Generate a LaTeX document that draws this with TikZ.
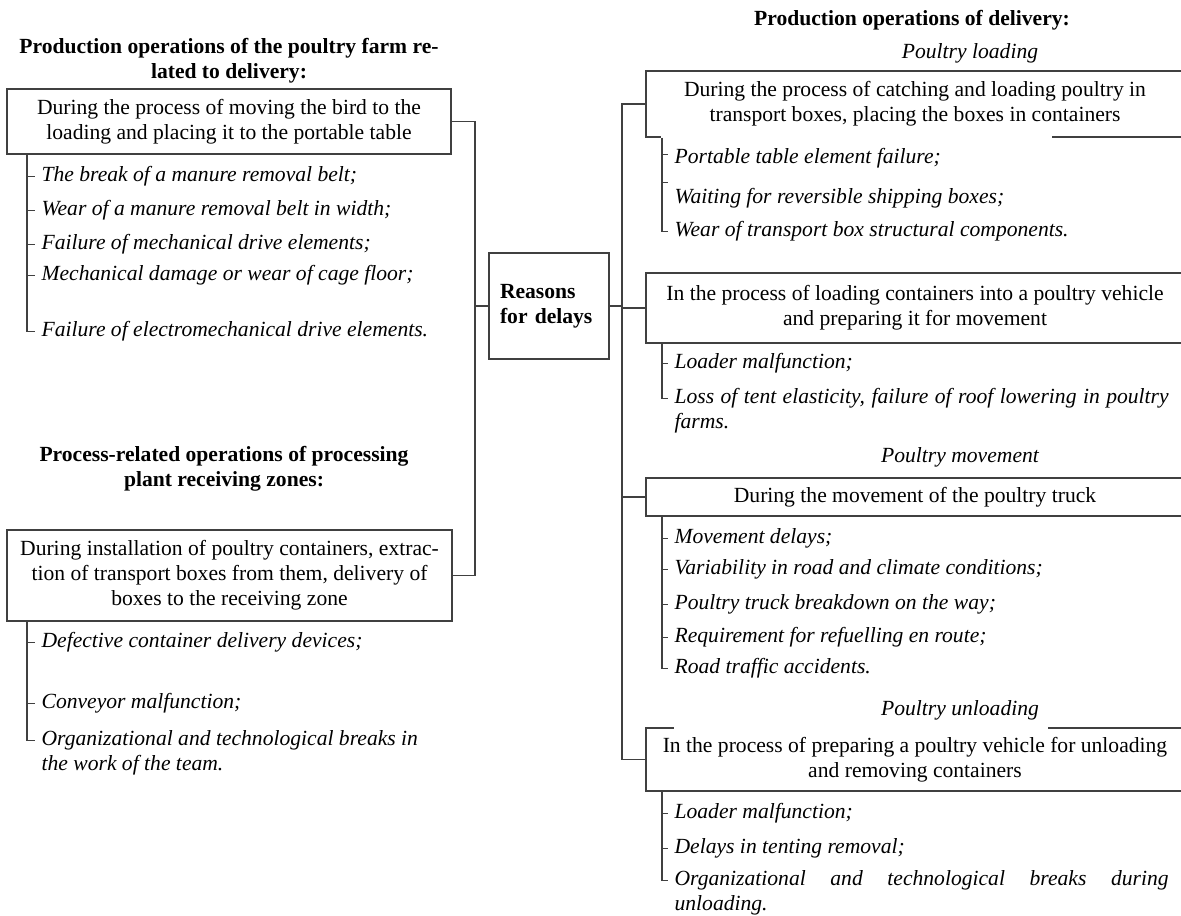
\documentclass[tikz,border=0pt]{standalone}
\usepackage{fontspec}
\setmainfont{Liberation Serif}
\usetikzlibrary{positioning}

\begin{document}
\begin{tikzpicture}[x=0.5pt, y=-0.5pt, line width=0.6pt, draw=black!75,
  every node/.style={font=\fontsize{10.8pt}{12.5pt}\selectfont},
  cause/.style={draw, align=center, inner sep=0pt},
  head/.style={align=center, font=\fontsize{10.8pt}{12.5pt}\selectfont\bfseries},
  stage/.style={font=\fontsize{10.8pt}{12.5pt}\selectfont\itshape},
  item/.style={anchor=base west, inner sep=0pt, align=flush left,
    font=\fontsize{10.8pt}{12.5pt}\selectfont\itshape}]
  \useasboundingbox (0,0) rectangle (1181,915);
  \clip (0,0) rectangle (1181,915);

  % poultry farm side
  \node[head] (farmhead) at (229,61) {Production operations of the poultry farm re-\\lated to delivery:};
  \node[cause, minimum width=222pt, minimum height=32.5pt] (farm) at (229,121.5)
    {During the process of moving the bird to the\\loading and placing it to the portable table};
  \node[item] (f1) at (41,181) {The break of a manure removal belt;};
  \node[item] (f2) at (41,215) {Wear of a manure removal belt in width;};
  \node[item] (f3) at (41,249) {Failure of mechanical drive elements;};
  \node[item] (f4) at (41,280) {Mechanical damage or wear of cage floor;};
  \node[item] (f5) at (41,336) {Failure of electromechanical drive elements.};

  % processing plant side
  \node[head] (planthead) at (224,469) {Process-related operations of processing\\plant receiving zones:};
  \node[cause, minimum width=222.5pt, minimum height=45.5pt] (plant) at (229.5,575.5)
    {During installation of poultry containers, extrac-\\tion of transport boxes from them, delivery of\\boxes to the receiving zone};
  \node[item] (p1) at (41,647) {Defective container delivery devices;};
  \node[item] (p2) at (41,708) {Conveyor malfunction;};
  \node[item, text width=210pt] (p3) at (41,745) {Organizational and technological breaks in\\the work of the team.};

  % centre
  \node[cause, minimum width=60pt, minimum height=53pt, text width=49pt, align=left,
    font=\fontsize{10.8pt}{12.5pt}\selectfont\bfseries] (reasons) at (549,306) {Reasons\\for delays};

  % delivery side
  \node[head] (delhead) at (912,20) {Production operations of delivery:};
  \node[stage] (loading) at (970,53) {Poultry loading};
  \node[cause, minimum width=269pt, minimum height=33pt] (catch) at (915,104)
    {During the process of catching and loading poultry in\\transport boxes, placing the boxes in containers};
  \node[item] (c1) at (674,163) {Portable table element failure;};
  \node[item] (c2) at (674,203) {Waiting for reversible shipping boxes;};
  \node[item] (c3) at (674,236) {Wear of transport box structural components.};

  \node[cause, minimum width=269pt, minimum height=35pt] (vehicle) at (915,308)
    {In the process of loading containers into a poultry vehicle\\and preparing it for movement};
  \node[item] (v1) at (674,368) {Loader malfunction;};
  \node[item, text width=247pt, align=justify] (v2) at (674,403)
    {Loss of tent elasticity, failure of roof lowering in poultry\linebreak farms.};

  \node[stage] (movement) at (960,457) {Poultry movement};
  \node[cause, minimum width=269pt, minimum height=19pt] (truck) at (915,497)
    {During the movement of the poultry truck};
  \node[item] (t1) at (674,543) {Movement delays;};
  \node[item] (t2) at (674,574) {Variability in road and climate conditions;};
  \node[item] (t3) at (674,609) {Poultry truck breakdown on the way;};
  \node[item] (t4) at (674,642) {Requirement for refuelling en route;};
  \node[item] (t5) at (674,673) {Road traffic accidents.};

  \node[stage] (unloading) at (960,710) {Poultry unloading};
  \node[cause, minimum width=269pt, minimum height=31.5pt] (unload) at (915,759.5)
    {In the process of preparing a poultry vehicle for unloading\\and removing containers};
  \node[item] (u1) at (674,818) {Loader malfunction;};
  \node[item] (u2) at (674,853) {Delays in tenting removal;};
  \node[item, text width=247pt, align=justify] (u3) at (674,885)
    {Organizational and technological breaks during\linebreak unloading.};

  % spines
  \coordinate (lspine) at (475,0);
  \coordinate (rspine) at (622,0);
  \coordinate (ltrunk) at (27,0);
  \coordinate (rtrunk) at (662,0);

  \draw (farm.east) -- (farm.east -| lspine) -- (plant.east -| lspine) -- (plant.east);
  \draw (reasons.west) -- (reasons.west -| lspine);
  \draw (reasons.east) -- (reasons.east -| rspine);
  \draw (catch.west) -- (catch.west -| rspine) -- (unload.west -| rspine) -- (unload.west);
  \draw (vehicle.west -| rspine) -- (vehicle.west);
  \draw (truck.west -| rspine) -- (truck.west);

  % broken box edges
  \draw[white, line width=1.6pt] ([xshift=8pt]catch.south west) -- ([xshift=203.5pt]catch.south west);
  \draw[white, line width=1.6pt] ([xshift=14.5pt]unload.north west) -- ([xshift=201.5pt]unload.north west);

  % item trunks
  \draw (farm.south -| ltrunk) -- (ltrunk |- f5.mid west) -- ([xshift=-3pt]f5.mid west)
        (ltrunk |- f1.mid west) -- ([xshift=-3pt]f1.mid west)
        (ltrunk |- f2.mid west) -- ([xshift=-3pt]f2.mid west)
        (ltrunk |- f3.mid west) -- ([xshift=-3pt]f3.mid west)
        (ltrunk |- f4.mid west) -- ([xshift=-3pt]f4.mid west);
  \draw (plant.south -| ltrunk) -- (ltrunk |- p3.mid west) -- ([xshift=-3pt]p3.mid west)
        (ltrunk |- p1.mid west) -- ([xshift=-3pt]p1.mid west)
        (ltrunk |- p2.mid west) -- ([xshift=-3pt]p2.mid west);
  \draw (catch.south -| rtrunk) -- (rtrunk |- c3.mid west) -- ([xshift=-3pt]c3.mid west)
        ([yshift=2pt]rtrunk |- c1.mid west) -- ([xshift=-3pt, yshift=2pt]c1.mid west)
        ([yshift=8pt]rtrunk |- c2.mid west) -- ([xshift=-3pt, yshift=8pt]c2.mid west);
  \draw (vehicle.south -| rtrunk) -- (rtrunk |- v2.mid west) -- ([xshift=-3pt]v2.mid west)
        (rtrunk |- v1.mid west) -- ([xshift=-3pt]v1.mid west);
  \draw (truck.south -| rtrunk) -- (rtrunk |- t5.mid west) -- ([xshift=-3pt]t5.mid west)
        (rtrunk |- t1.mid west) -- ([xshift=-3pt]t1.mid west)
        (rtrunk |- t2.mid west) -- ([xshift=-3pt]t2.mid west)
        (rtrunk |- t3.mid west) -- ([xshift=-3pt]t3.mid west)
        (rtrunk |- t4.mid west) -- ([xshift=-3pt]t4.mid west);
  \draw (unload.south -| rtrunk) -- (rtrunk |- u3.mid west) -- ([xshift=-3pt]u3.mid west)
        (rtrunk |- u1.mid west) -- ([xshift=-3pt]u1.mid west)
        (rtrunk |- u2.mid west) -- ([xshift=-3pt]u2.mid west);
\end{tikzpicture}
\end{document}
